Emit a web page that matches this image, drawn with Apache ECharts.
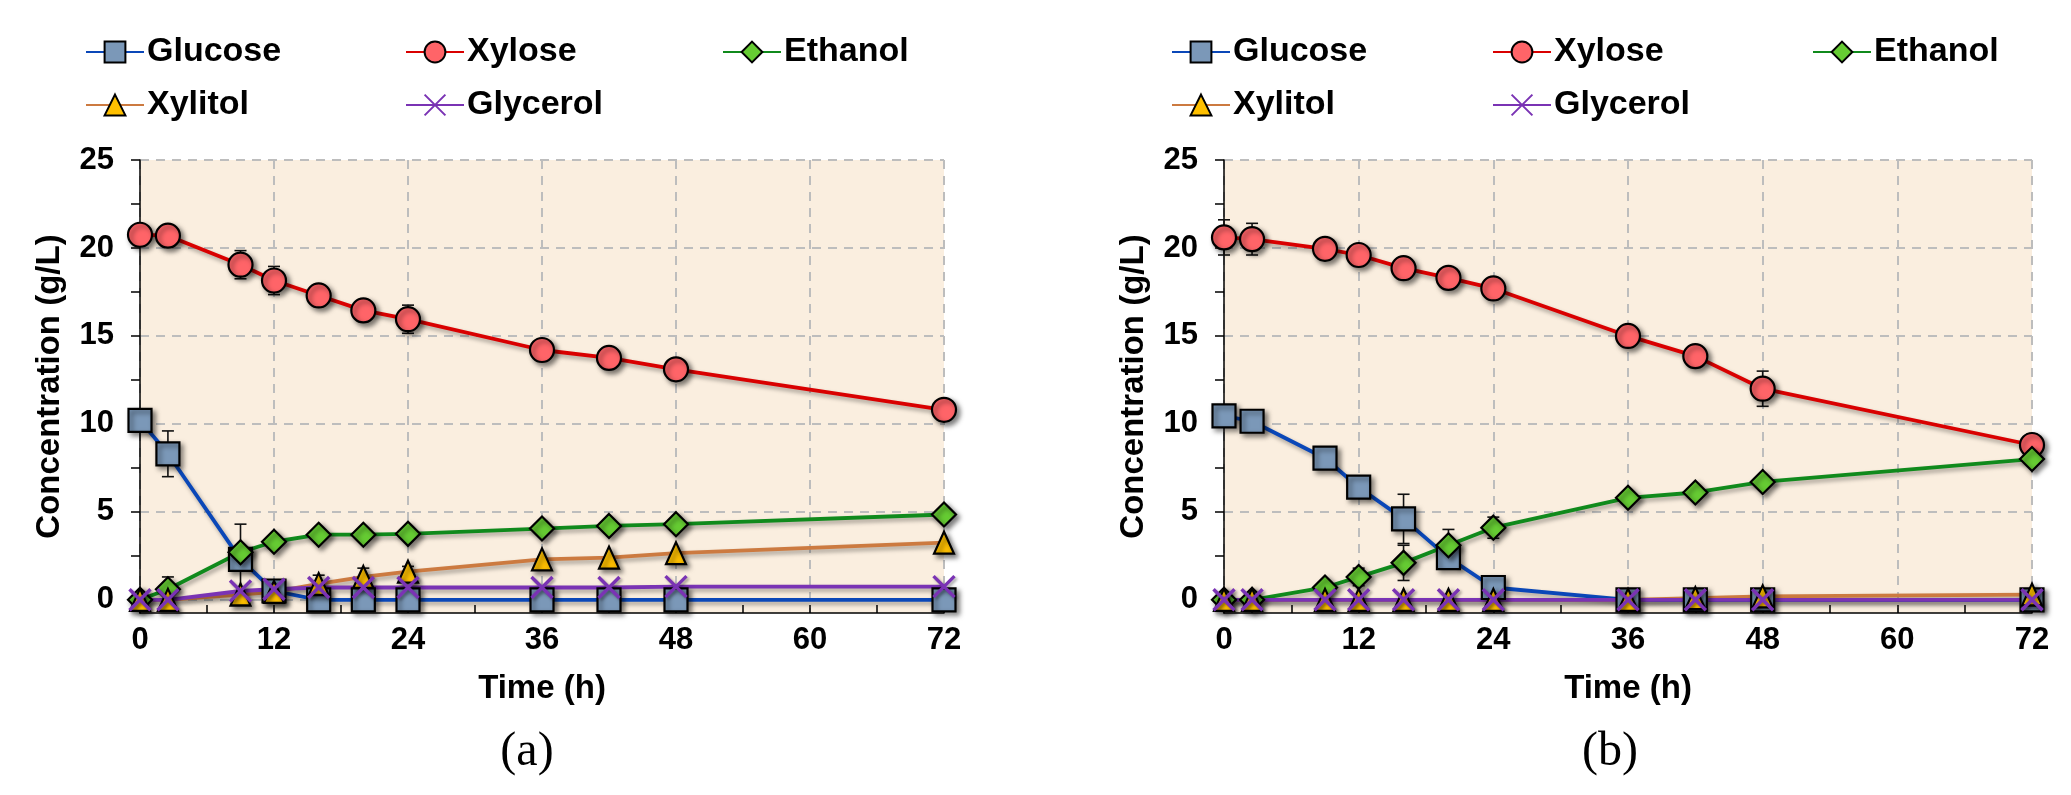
<!DOCTYPE html>
<html>
<head>
<meta charset="utf-8">
<script src="https://cdn.jsdelivr.net/npm/echarts@6/dist/echarts.min.js"></script>
<style>
html,body{margin:0;padding:0;background:#fff;}
#chart{width:2071px;height:795px;}
</style>
</head>
<body>
<div id="chart"></div>
<script>
// ---------- data ----------
const time = [0, 2.5, 9, 12, 16, 20, 24, 36, 42, 48, 72];
const xTicks = [0, 12, 24, 36, 48, 60, 72];
const yTicks = [0, 5, 10, 15, 20, 25];
const yMinorTicks = [0, 2.5, 5, 7.5, 10, 12.5, 15, 17.5, 20, 22.5, 25];
const seriesNames = ['Glucose', 'Xylose', 'Ethanol', 'Xylitol', 'Glycerol'];

// panel (a)
const glucoseA  = [10.2, 8.3, 2.3, 0.5, 0, 0, 0, 0, 0, 0, 0];
const xyloseA   = [20.75, 20.7, 19.05, 18.15, 17.3, 16.45, 15.95, 14.2, 13.75, 13.1, 10.8];
const ethanolA  = [0, 0.6, 2.7, 3.3, 3.7, 3.7, 3.75, 4.05, 4.2, 4.3, 4.85];
const xylitolA  = [0, 0, 0.3, 0.45, 0.9, 1.3, 1.6, 2.3, 2.4, 2.65, 3.25];
const glycerolA = [0, 0, 0.5, 0.6, 0.7, 0.7, 0.7, 0.7, 0.7, 0.75, 0.75];
const errGlucoseA = [0, 1.3, 2.0, 0.6, 0, 0, 0, 0, 0, 0, 0];
const errXyloseA  = [0, 0, 0.8, 0.8, 0.5, 0.5, 0.8, 0, 0, 0, 0];
const errEthanolA = [0, 0.7, 0, 0, 0, 0, 0, 0, 0, 0, 0];
const errXylitolA = [0, 0, 0, 0, 0.5, 0.5, 0.3, 0, 0, 0, 0];

// panel (b)
const glucoseB  = [10.45, 10.15, 8.05, 6.4, 4.6, 2.4, 0.7, 0, 0, 0, 0];
const xyloseB   = [20.6, 20.5, 19.95, 19.6, 18.85, 18.3, 17.7, 15.0, 13.85, 12.0, 8.8];
const ethanolB  = [0, 0, 0.7, 1.3, 2.1, 3.1, 4.1, 5.8, 6.1, 6.7, 8.0];
const xylitolB  = [0, 0, 0, 0, 0, 0, 0, 0, 0.1, 0.2, 0.3];
const glycerolB = [0, 0, 0, 0, 0, 0, 0, 0, 0, 0, 0];
const errGlucoseB = [0, 0, 0, 0.6, 1.4, 0, 0, 0, 0, 0, 0];
const errXyloseB  = [1.0, 0.9, 0, 0, 0, 0, 0, 0, 0, 1.0, 0.6];
const errEthanolB = [0, 0, 0, 0.5, 1.0, 0.9, 0.6, 0, 0, 0, 0];

// ---------- styles ----------
const FONT = "'Liberation Sans', Arial, Helvetica, sans-serif";
const styles = {
  Glucose:  {line: '#0A47B8', fill: '#7B98B8', symbol: 'rect', size: 23},
  Xylose:   {line: '#D90000', fill: '#FF6468', symbol: 'circle', size: 24},
  Ethanol:  {line: '#108A1C', fill: '#66CC33', symbol: 'diamond', size: [24, 24]},
  Xylitol:  {line: '#CC7A40', fill: '#FFC000', symbol: 'triangle', size: [20, 22]},
  Glycerol: {line: '#7A33B4', fill: '#7A33B4', symbol: 'path://M0,0L20,20M20,0L0,20', size: 21}
};

function pairs(vals) { return time.map((t, i) => [t, vals[i]]); }

function lineSeries(name, vals, idx) {
  const s = styles[name];
  const isX = name === 'Glycerol';
  return {
    name: name, type: 'line', xAxisIndex: idx, yAxisIndex: idx * 2,
    data: pairs(vals), symbol: s.symbol, symbolSize: s.size, clip: false,
    z: 3,
    lineStyle: {color: s.line, width: 3.8, shadowColor: 'rgba(0,0,0,0.35)', shadowBlur: 4, shadowOffsetX: 2, shadowOffsetY: 3},
    itemStyle: isX
      ? {color: s.fill, borderColor: s.fill, borderWidth: 3.4, shadowColor: 'rgba(0,0,0,0.35)', shadowBlur: 3, shadowOffsetX: 2, shadowOffsetY: 2}
      : {color: s.fill, borderColor: '#000', borderWidth: 2.2, shadowColor: 'rgba(0,0,0,0.5)', shadowBlur: 5, shadowOffsetX: 3, shadowOffsetY: 3},
    emphasis: {disabled: true},
    animation: false
  };
}

function errSeries(vals, errs, idx) {
  const d = [];
  time.forEach((t, i) => { if (errs[i] > 0) d.push([t, vals[i] - errs[i], vals[i] + errs[i]]); });
  return {
    type: 'custom', xAxisIndex: idx, yAxisIndex: idx * 2, z: 2, clip: false,
    data: d, silent: true, animation: false,
    renderItem: function (params, api) {
      const x = api.value(0);
      const lo = api.coord([x, api.value(1)]);
      const hi = api.coord([x, api.value(2)]);
      const w = 6;
      const st = {stroke: '#111', lineWidth: 1.6};
      return {type: 'group', children: [
        {type: 'line', shape: {x1: lo[0], y1: lo[1], x2: hi[0], y2: hi[1]}, style: st},
        {type: 'line', shape: {x1: lo[0] - w, y1: lo[1], x2: lo[0] + w, y2: lo[1]}, style: st},
        {type: 'line', shape: {x1: hi[0] - w, y1: hi[1], x2: hi[0] + w, y2: hi[1]}, style: st}
      ]};
    }
  };
}

const grids = [
  {left: 140, top: 160, width: 804, height: 453},
  {left: 1224, top: 160, width: 808, height: 453}
];

function xAxis(idx) {
  return {
    type: 'value', gridIndex: idx, min: 0, max: 72, interval: 12,
    name: 'Time (h)', nameLocation: 'middle', nameGap: 59,
    nameTextStyle: {fontFamily: FONT, fontSize: 33, fontWeight: 'bold', color: '#000'},
    axisLine: {show: true, onZero: false, lineStyle: {color: '#000', width: 1.5}},
    axisTick: {show: true, inside: true, length: 8, lineStyle: {color: '#000', width: 1.5}},
    minorTick: {show: true, splitNumber: 2, length: 8, lineStyle: {color: '#000', width: 1.5}},
    axisLabel: {fontFamily: FONT, fontSize: 31, fontWeight: 'bold', color: '#000', margin: 12},
    splitLine: {show: true, lineStyle: {color: '#BDBDBD', width: 2, type: [9, 7]}}
  };
}

function yAxes(idx) {
  return [
    {
      type: 'value', gridIndex: idx, min: -0.75, max: 25,
      name: 'Concentration (g/L)', nameLocation: 'middle', nameGap: 74, nameRotate: 90,
      nameTextStyle: {fontFamily: FONT, fontSize: 33, fontWeight: 'bold', color: '#000'},
      axisLine: {show: true, lineStyle: {color: '#000', width: 1.5}},
      axisTick: {show: true, length: 9, customValues: yMinorTicks, lineStyle: {color: '#000', width: 1.5}},
      axisLabel: {fontFamily: FONT, fontSize: 31, fontWeight: 'bold', color: '#000', margin: 26, customValues: yTicks},
      splitLine: {show: false}
    },
    {
      type: 'value', gridIndex: idx, min: -0.75, max: 25,
      axisLine: {show: false}, axisLabel: {show: false},
      axisTick: {show: false, customValues: yTicks},
      splitLine: {show: true, lineStyle: {color: '#BDBDBD', width: 2, type: [9, 7]}}
    }
  ];
}

// one legend component per entry: [name, icon centre x, row centre y]
const legendSlots = [
  ['Glucose', 109, 47], ['Xylose', 429, 47], ['Ethanol', 746, 47],
  ['Xylitol', 109, 100], ['Glycerol', 429, 100],
  ['Glucose', 1195, 47], ['Xylose', 1516, 47], ['Ethanol', 1836, 47],
  ['Xylitol', 1195, 100], ['Glycerol', 1516, 100]
];
const legends = legendSlots.map(([n, cx, cy]) => ({
  left: cx - 29, top: cy - 17, itemWidth: 58, itemHeight: 26, selectedMode: false,
  data: [n],
  textStyle: {fontFamily: FONT, fontSize: 34, fontWeight: 'bold', color: '#000', padding: [0, 0, 0, -2]},
  itemStyle: {shadowBlur: 0, shadowOffsetX: 0, shadowOffsetY: 0},
  lineStyle: {shadowBlur: 0, shadowOffsetX: 0, shadowOffsetY: 0}
}));

const series = [
  errSeries(glucoseA, errGlucoseA, 0), errSeries(xyloseA, errXyloseA, 0),
  errSeries(ethanolA, errEthanolA, 0), errSeries(xylitolA, errXylitolA, 0),
  errSeries(glucoseB, errGlucoseB, 1), errSeries(xyloseB, errXyloseB, 1),
  errSeries(ethanolB, errEthanolB, 1),
  lineSeries('Glucose', glucoseA, 0), lineSeries('Xylose', xyloseA, 0),
  lineSeries('Ethanol', ethanolA, 0), lineSeries('Xylitol', xylitolA, 0),
  lineSeries('Glycerol', glycerolA, 0),
  lineSeries('Glucose', glucoseB, 1), lineSeries('Xylose', xyloseB, 1),
  lineSeries('Ethanol', ethanolB, 1), lineSeries('Xylitol', xylitolB, 1),
  lineSeries('Glycerol', glycerolB, 1)
];

const chart = echarts.init(document.getElementById('chart'), null, {renderer: 'canvas'});
chart.setOption({
  backgroundColor: '#fff',
  animation: false,
  grid: grids.map(g => Object.assign({show: true, backgroundColor: '#FAEEDF', borderWidth: 0}, g)),
  xAxis: [xAxis(0), xAxis(1)],
  yAxis: yAxes(0).concat(yAxes(1)),
  legend: legends,
  graphic: [
    {type: 'text', x: 527, y: 752, style: {text: '(a)', font: "48px 'Liberation Serif', 'DejaVu Serif', serif", textAlign: 'center', textVerticalAlign: 'middle', fill: '#000'}},
    {type: 'text', x: 1610, y: 752, style: {text: '(b)', font: "48px 'Liberation Serif', 'DejaVu Serif', serif", textAlign: 'center', textVerticalAlign: 'middle', fill: '#000'}}
  ],
  series: series
});
</script>
</body>
</html>
